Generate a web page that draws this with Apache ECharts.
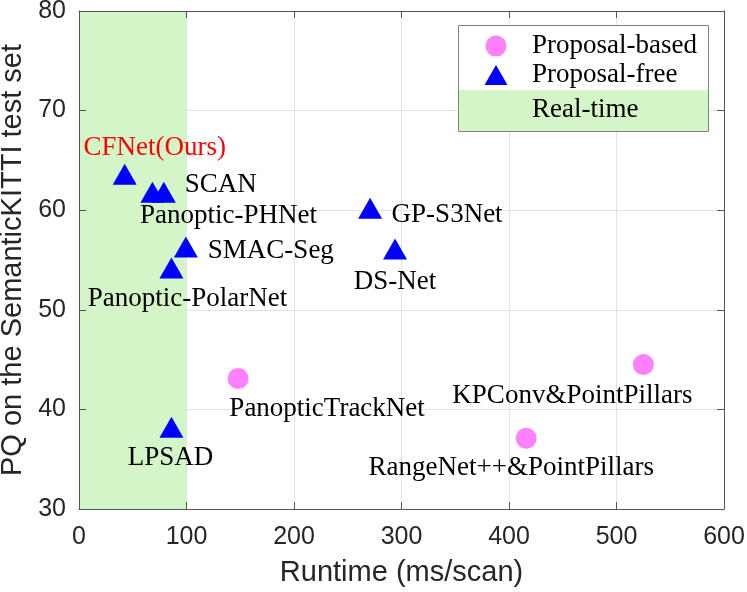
<!DOCTYPE html>
<html>
<head>
<meta charset="utf-8">
<script src="https://cdn.jsdelivr.net/npm/echarts@6/dist/echarts.min.js"></script>
<style>
html, body { margin: 0; padding: 0; background: #fff; }
#chartDom { width: 747px; height: 592px; }
</style>
</head>
<body>
<div id="chartDom"></div>
<script>
// proposal-free methods (triangles)
var freeNames = ['CFNet(Ours)', 'Panoptic-PHNet', 'SCAN', 'SMAC-Seg', 'Panoptic-PolarNet', 'GP-S3Net', 'DS-Net', 'LPSAD'];
var freeRuntime = [42.5, 68.3, 78.9, 99.4, 86, 270.8, 294, 86];
var freePQ = [63.6, 61.8, 61.8, 56.3, 54.2, 60.2, 56.1, 38.2];

// proposal-based methods (circles)
var basedNames = ['PanopticTrackNet', 'RangeNet++&PointPillars', 'KPConv&PointPillars'];
var basedRuntime = [148, 416, 525];
var basedPQ = [43.1, 37.1, 44.5];

// real-time band (ms/scan)
var realTimeRange = [0, 100];

var legendNames = ['Proposal-based', 'Proposal-free', 'Real-time'];

// label placement, px from the marker
var labelOffsets = {
    'CFNet(Ours)': [30, -26],
    'Panoptic-PHNet': [76, 24],
    'SCAN': [57, -7],
    'SMAC-Seg': [85, 4],
    'Panoptic-PolarNet': [16, 31],
    'GP-S3Net': [77, 7],
    'DS-Net': [0, 33],
    'LPSAD': [-1, 31],
    'PanopticTrackNet': [89, 30],
    'RangeNet++&PointPillars': [-15, 30],
    'KPConv&PointPillars': [-71, 31]
};

var myChart = echarts.init(document.getElementById('chartDom'));

var serif = 'Liberation Serif';
var sans = 'Liberation Sans';
var axisCol = '#555';
var txtCol = '#262626';

function buildPoints(names, xs, ys) {
    return names.map(function (n, i) {
        return {
            name: n,
            value: [xs[i], ys[i]],
            label: {
                offset: labelOffsets[n],
                color: n === 'CFNet(Ours)' ? '#ff0000' : '#000'
            }
        };
    });
}

var pointLabel = {
    show: true,
    position: 'inside',
    formatter: '{b}',
    fontFamily: serif,
    fontSize: 27,
    align: 'center',
    verticalAlign: 'middle'
};

// frame axes: lines, ticks, labels (drawn above the green band)
function frameX(pos, withLabels) {
    return {
        type: 'value', gridIndex: 1, position: pos, min: 0, max: 600, interval: 100, z: 5,
        axisLine: { show: true, onZero: false, lineStyle: { color: axisCol, width: 1 } },
        axisTick: { show: true, inside: true, length: 7, lineStyle: { color: axisCol } },
        axisLabel: { show: withLabels, fontFamily: sans, fontSize: 25, color: txtCol, margin: 16 },
        splitLine: { show: false },
        name: withLabels ? 'Runtime (ms/scan)' : '',
        nameLocation: 'middle',
        nameGap: 49,
        nameTextStyle: { fontFamily: sans, fontSize: 29, color: txtCol }
    };
}
function frameY(pos, withLabels) {
    return {
        type: 'value', gridIndex: 1, position: pos, min: 30, max: 80, interval: 10, z: 5,
        axisLine: { show: true, onZero: false, lineStyle: { color: axisCol, width: 1 } },
        axisTick: { show: true, inside: true, length: 7, lineStyle: { color: axisCol } },
        axisLabel: { show: withLabels, fontFamily: sans, fontSize: 25, color: txtCol, margin: 13 },
        splitLine: { show: false },
        name: withLabels ? 'PQ on the SemanticKITTI test set' : '',
        nameLocation: 'middle',
        nameGap: 47,
        nameTextStyle: { fontFamily: sans, fontSize: 29, color: txtCol }
    };
}

var gridBox = { left: 79, right: 23, top: 11, bottom: 83, containLabel: false, outerBoundsMode: 'none' };

var legendFont = '27px "Liberation Serif"';

option = {
    backgroundColor: '#fff',
    animation: false,
    grid: [
        Object.assign({}, gridBox),
        Object.assign({}, gridBox)
    ],
    xAxis: [
        {
            type: 'value', gridIndex: 0, min: 0, max: 600, interval: 100, z: 0,
            axisLine: { show: false }, axisTick: { show: false }, axisLabel: { show: false },
            splitLine: { show: true, lineStyle: { color: '#e2e2e2', width: 1 } }
        },
        frameX('bottom', true),
        frameX('top', false)
    ],
    yAxis: [
        {
            type: 'value', gridIndex: 0, min: 30, max: 80, interval: 10, z: 0,
            axisLine: { show: false }, axisTick: { show: false }, axisLabel: { show: false },
            splitLine: { show: true, lineStyle: { color: '#e2e2e2', width: 1 } }
        },
        frameY('left', true),
        frameY('right', false)
    ],
    series: [
        {
            name: legendNames[2],
            type: 'scatter',
            xAxisIndex: 0, yAxisIndex: 0,
            z: 1,
            data: [],
            markArea: {
                silent: true,
                itemStyle: { color: '#d4f5c7', opacity: 1 },
                data: [[{ xAxis: realTimeRange[0], yAxis: 30 }, { xAxis: realTimeRange[1], yAxis: 80 }]]
            }
        },
        {
            name: legendNames[0],
            type: 'scatter',
            xAxisIndex: 0, yAxisIndex: 0,
            symbol: 'circle',
            symbolSize: 21,
            itemStyle: { color: '#ff80ff', opacity: 1 },
            label: pointLabel,
            data: buildPoints(basedNames, basedRuntime, basedPQ)
        },
        {
            name: legendNames[1],
            type: 'scatter',
            xAxisIndex: 0, yAxisIndex: 0,
            symbol: 'triangle',
            symbolSize: [24, 21],
            itemStyle: { color: '#0000ff', opacity: 1 },
            label: pointLabel,
            data: buildPoints(freeNames, freeRuntime, freePQ)
        }
    ],
    // legend box drawn by hand (MATLAB style, patch fills the whole row)
    graphic: [
        { type: 'rect', z: 100, shape: { x: 458.5, y: 25.5, width: 250, height: 106 }, style: { fill: '#fff', stroke: '#808080', lineWidth: 1 } },
        { type: 'rect', z: 101, shape: { x: 459, y: 90, width: 249, height: 41 }, style: { fill: '#d4f5c7' } },
        { type: 'circle', z: 101, shape: { cx: 496, cy: 46, r: 10.5 }, style: { fill: '#ff80ff' } },
        { type: 'polygon', z: 101, shape: { points: [[484.5, 85], [507.5, 85], [496, 65]] }, style: { fill: '#0000ff' } },
        { type: 'text', z: 102, x: 532, y: 46, style: { text: legendNames[0], font: legendFont, fill: '#000', verticalAlign: 'middle' } },
        { type: 'text', z: 102, x: 532, y: 75, style: { text: legendNames[1], font: legendFont, fill: '#000', verticalAlign: 'middle' } },
        { type: 'text', z: 102, x: 532, y: 110, style: { text: legendNames[2], font: legendFont, fill: '#000', verticalAlign: 'middle' } }
    ]
};

myChart.setOption(option);
</script>
</body>
</html>
